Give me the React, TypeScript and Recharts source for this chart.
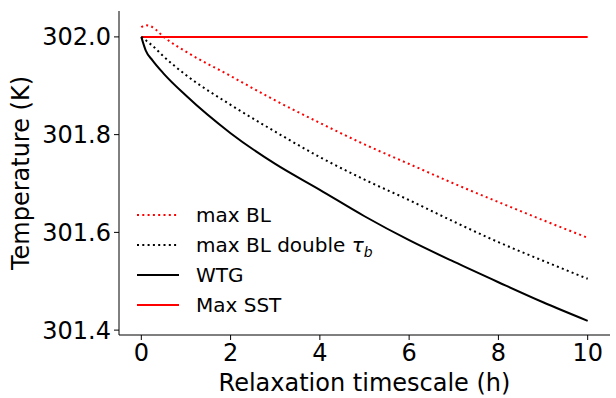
import React from "react";
import { Line, LineChart, XAxis, YAxis } from "recharts";

const hours = [0, 0.1, 0.25, 0.5, 1, 2, 3, 4, 5, 6, 7, 8, 9, 10];
const maxBL = [302.02, 302.024, 302.02, 302.0, 301.97, 301.92, 301.87, 301.824, 301.78, 301.74, 301.7, 301.662, 301.625, 301.589];
const maxBLDouble = [302.0, 301.993, 301.982, 301.96, 301.922, 301.861, 301.806, 301.754, 301.708, 301.666, 301.622, 301.58, 301.542, 301.505];
const wtg = [302.0, 301.972, 301.952, 301.925, 301.88, 301.803, 301.74, 301.687, 301.633, 301.584, 301.54, 301.498, 301.457, 301.419];
const maxSST = [302.0, 302.0, 302.0, 302.0, 302.0, 302.0, 302.0, 302.0, 302.0, 302.0, 302.0, 302.0, 302.0, 302.0];

const xTicks = [0, 2, 4, 6, 8, 10];
const yTicks = [301.4, 301.6, 301.8, 302.0];

const data = hours.map((h, i) => ({
  h,
  maxBL: maxBL[i],
  maxBLDouble: maxBLDouble[i],
  wtg: wtg[i],
  maxSST: maxSST[i],
}));

const FONT = "DejaVu Sans";
const dotted = "2 3.3";

const legendItems = [
  { key: "maxBL", color: "red", dash: dotted },
  { key: "maxBLDouble", color: "black", dash: dotted },
  { key: "wtg", color: "black", dash: undefined },
  { key: "maxSST", color: "red", dash: undefined },
];

const renderLabel = (key: string) => {
  if (key === "maxBL") return "max BL";
  if (key === "wtg") return "WTG";
  if (key === "maxSST") return "Max SST";
  return (
    <>
      max BL double{" "}
      <tspan fontStyle="italic">τ</tspan>
      <tspan fontStyle="italic" fontSize={14} dy={5}>b</tspan>
    </>
  );
};

const LegendBox = () => (
  <svg width={260} height={125} style={{ position: "absolute", left: 137, top: 200 }}>
    {legendItems.map((it, i) => {
      const y = 15 + i * 30;
      return (
        <g key={it.key}>
          <line x1={0} x2={42} y1={y} y2={y} stroke={it.color} strokeWidth={2} strokeDasharray={it.dash} />
          <text x={59} y={y + 7} fontSize={20} fontFamily={FONT} fill="#000">
            {renderLabel(it.key)}
          </text>
        </g>
      );
    })}
  </svg>
);

const App = () => {
  return (
    <div style={{ position: "absolute", left: 0, top: 0, width: 616, height: 398 }}>
      <LineChart
        width={616}
        height={398}
        data={data}
        margin={{ top: 11, right: 6, bottom: 0, left: 0 }}
      >
        <XAxis
          dataKey="h"
          type="number"
          domain={[-0.5, 10.5]}
          ticks={xTicks}
          height={63}
          tickSize={5}
          tickMargin={4}
          stroke="#000"
          tick={{ fill: "#000", fontSize: 24, fontFamily: FONT }}
          label={{
            value: "Relaxation timescale (h)",
            position: "insideBottom",
            offset: 7,
            fill: "#000",
            fontSize: 24,
            fontFamily: FONT,
          }}
        />
        <YAxis
          type="number"
          domain={[301.39, 302.053]}
          ticks={yTicks}
          width={119}
          tickSize={5}
          tickMargin={3}
          stroke="#000"
          tickFormatter={(v: number) => v.toFixed(1)}
          tick={{ fill: "#000", fontSize: 24, fontFamily: FONT }}
          label={{
            value: "Temperature (K)",
            angle: -90,
            position: "insideLeft",
            offset: 20,
            style: { textAnchor: "middle" },
            fill: "#000",
            fontSize: 24,
            fontFamily: FONT,
          }}
        />
        <Line dataKey="maxSST" type="linear" stroke="red" strokeWidth={2} dot={false} isAnimationActive={false} />
        <Line dataKey="maxBL" type="monotone" stroke="red" strokeWidth={2} strokeDasharray={dotted} dot={false} isAnimationActive={false} />
        <Line dataKey="maxBLDouble" type="monotone" stroke="black" strokeWidth={2} strokeDasharray={dotted} dot={false} isAnimationActive={false} />
        <Line dataKey="wtg" type="monotone" stroke="black" strokeWidth={2} dot={false} isAnimationActive={false} />
      </LineChart>
      <LegendBox />
    </div>
  );
};

export default App;
